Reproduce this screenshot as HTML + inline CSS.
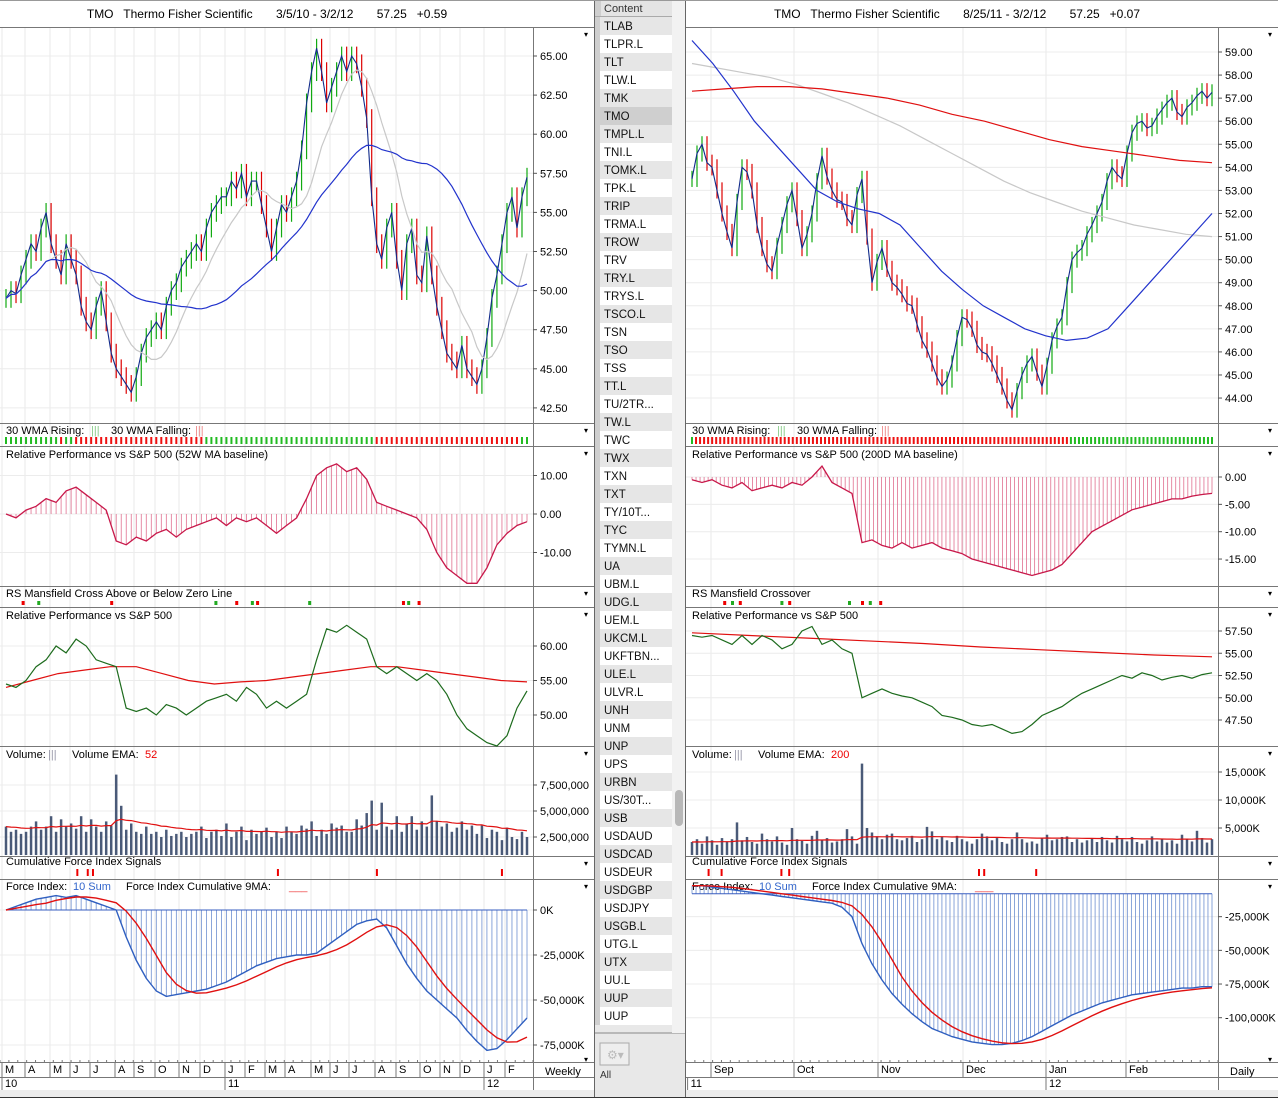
<!DOCTYPE html>
<html><head><meta charset="utf-8">
<style>
html,body{margin:0;padding:0;background:#fff;}
svg{display:block;font-family:"Liberation Sans",sans-serif;}
text{white-space:pre;}
</style></head>
<body>
<svg id="root" width="1278" height="1098" viewBox="0 0 1278 1098" xmlns="http://www.w3.org/2000/svg"></svg>
<script>
// ---------- DATA ----------
const leftClose=[49.5,50,49.8,51,52,53,52.5,54,55,53,52,51,53,52,51,49,48,47.5,49,50,48,46,45,44.5,44,43.5,44.5,46,47,47.5,48,47.5,49,50,50.5,51.5,52,52.5,53,52.5,54,55,55.5,56,56,57,56.5,57.5,56,57,57,55.5,54,52.5,54,55.5,55,56,57,59,62,64,65.5,64,62,63,64,65,64,65,64.5,63,61,56,53,52,54,55,52,50,53,54,51,50.5,53.5,51,49,47.5,46,45.5,45,46.5,45,44.5,44,45,47,49.5,51,53,55,56,54,56,57.25];
const leftVol=[3.5,3,3.2,2.8,3,3.5,4,3.2,3.5,4.5,3,4.2,3.5,3.8,3.3,4.5,3,4.2,3.5,3,4,3.6,8.5,5.5,3.2,3.8,3,2.8,3.5,2.8,3,2.5,3.2,2.6,2.8,3,2.5,2.8,3,3.5,2.4,3,3.2,2.6,3.8,2.5,3,3.5,2.2,3.2,2.8,3,3.4,2.5,3,2.4,3.5,3,2.8,3.6,3.3,4,2.6,3.2,2.8,3.8,3.4,3.6,3,3,4.2,3.6,4.8,6,3.2,5.8,3.5,3.2,4.5,3,3.8,4.5,3.2,4,3.5,6.5,4,3.5,3.8,3,3.4,4,3.2,3.6,2.8,3.6,2.4,3.2,3,2.2,3.4,2.5,2.3,3,2.5];
const leftRS52=[0,-1,1,2,4,3,6,7,5,3,1,-7,-8,-6,-7,-5,-4,-6,-4,-3,-2,-1,-3,-1,-2,-1,-3,-5,-3,-1,4,10,12,13,11,12,9,3,2,1,0,-1,-4,-10,-14,-16,-18,-18,-14,-8,-5,-3,-2];
const leftRP=[54.5,54,55,57,58,60,59,61,60,58,57.5,57,51,50.5,51,50,51.5,51,50,51,52,52.5,53,52,54,53,51,52,51,52,53,58,62.5,62,63,62,61,57,56,57,56,55,56,55,53,50,48,47,46,45.5,47,51,53.5];
const leftRPma=[54,55,56,56.5,57,57,56,55,54.5,54.8,55,55.5,56,56.5,57,57,56.5,56,55.5,55,54.8];
const leftFI=[0,2,4,6,7,8,7,8,6,4,2,0,-15,-28,-38,-45,-48,-47,-46,-45,-44,-42,-40,-37,-34,-31,-29,-27,-26,-25,-25,-24,-20,-16,-12,-8,-6,-5,-10,-20,-30,-38,-45,-50,-55,-60,-67,-73,-78,-77,-72,-66,-60];
const leftPriceTicks=[65,62.5,60,57.5,55,52.5,50,47.5,45,42.5];
const leftPriceLabels=["65.00","62.50","60.00","57.50","55.00","52.50","50.00","47.50","45.00","42.50"];
const leftMonths=["M","A","M","J","J","A","S","O","N","D","J","F","M","A","M","J","J","A","S","O","N","D","J","F"];
const leftYears=["10","11","12"];
const leftMansfield=[[0.03,'#e00'],[0.06,'#2a2'],[0.2,'#e00'],[0.4,'#2a2'],[0.44,'#e00'],[0.47,'#2a2'],[0.48,'#e00'],[0.58,'#2a2'],[0.76,'#e00'],[0.77,'#2a2'],[0.79,'#e00']];
const leftCFI=[0.135,0.155,0.165,0.52,0.71,0.95];

const rightClose=[53.5,54.6,55,54.2,54,53,52,51.2,50.5,52.5,54,53.8,53,51.5,50.5,49.8,49.5,50.6,51.5,52.4,53,51.8,50.5,51.1,52,53.4,54.5,53.6,53,52.6,52.5,51.8,51.5,52.8,53.5,51,49,49.9,50.5,49.6,49,48.8,48.5,48.1,48,47.2,46.5,46.1,45.5,44.9,44.5,44.8,45.5,46.6,47.5,47.4,47,46.3,46,45.9,45.5,45,44.5,43.9,43.5,44.3,45,45.5,45.8,45.1,44.5,45.4,46.5,47.1,47.5,48.9,50,50.3,50.5,51.1,51.5,52,52.5,53.4,54,53.7,53.5,54.6,55.5,55.9,56,55.7,55.8,56.2,56.5,56.8,57,56.4,56.2,56.6,56.8,57.1,57.3,57,57.25];
const rightMAblue=[59.5,58.5,57.3,56,55,54,53,52.5,52.2,52,51.5,50.5,49.5,48.7,48,47.5,47,46.7,46.5,46.6,47,48,49,50,51,52];
const rightMAgrey=[58.5,58.3,58.1,57.9,57.6,57.2,56.8,56.3,55.8,55.2,54.6,54,53.4,52.9,52.5,52.1,51.8,51.5,51.3,51.1,51];
const rightMAred=[57.3,57.4,57.5,57.5,57.4,57.2,57,56.7,56.3,56,55.6,55.2,54.9,54.7,54.5,54.3,54.2];
const rightVol=[2.5,3,2.2,3.5,2.8,2,3.2,2.6,3,6,2.8,3.4,2.5,2.2,4,3,2.6,3.5,2.4,2,5,3,2.7,2.2,3.6,4.5,2.8,3.2,2.4,2.6,3,4.8,3.5,2.2,16.5,5,4.2,3.5,3,3.8,4,3,2.8,3.2,3.6,2.5,3,5.2,4.4,3,3.4,2.8,2.5,3.6,3,2.6,2.2,3,4,3.5,2.8,3.2,2.5,2.2,3,4.2,3,2.4,2.6,2.2,3.2,3.8,2.8,3,3.4,3.5,2.5,3,2.4,2.8,3.2,2.5,3.4,2.8,2.4,3.6,3,2.6,3.4,2.5,2.2,2.8,3.5,2.6,3,2.4,2.8,2.2,3.8,3,2.6,4.5,3.2,2.4,3];
const rightRS=[-0.5,-1,-0.5,-1.5,-2,-1,-2.5,-2,-1.5,-2,-1,-1.5,0,2,-1,-2,-3,-12,-11.5,-12.5,-13,-12,-13,-12.5,-12,-13,-13.5,-14,-15,-15.5,-16,-16.5,-17,-17.5,-18,-17.5,-17,-16,-14,-12,-10,-9,-8,-7,-6,-5.5,-5,-4.5,-4,-4,-3.5,-3.2,-3];
const rightRP=[57,56.8,57,56.5,56,57,56,57,56.5,55.5,56,57.5,58,56,56.5,55.5,55,50,50.5,51,50.5,50.2,50,49.5,49,48,47.8,47.5,47,46.8,47,46.5,46,46.2,47,48,48.5,49,49.8,50.5,51,51.5,52,52.5,52.2,52.8,52.5,52,52.3,52.5,52.2,52.6,52.8];
const rightRPma=[57.3,57,56.7,56.4,56.1,55.7,55.4,55.1,54.8,54.6];
const rightFI=[-2,-2,-3,-4,-5,-6,-7,-8,-9,-10,-11,-12,-13,-14,-15,-18,-25,-45,-60,-72,-82,-90,-97,-103,-108,-111,-114,-116,-118,-119,-120,-120,-119,-117,-114,-110,-106,-102,-98,-95,-92,-89,-87,-85,-83,-82,-81,-80,-79,-78,-78,-77,-77];
const rightPriceTicks=[59,58,57,56,55,54,53,52,51,50,49,48,47,46,45,44];
const rightMonths=["Sep","Oct","Nov","Dec","Jan","Feb"];
const rightMansfield=[[0.06,'#e00'],[0.075,'#2a2'],[0.09,'#e00'],[0.17,'#2a2'],[0.185,'#e00'],[0.3,'#2a2'],[0.325,'#e00'],[0.34,'#2a2'],[0.36,'#e00']];
const rightCFI=[0.03,0.055,0.17,0.185,0.55,0.56,0.66];
const symbols=["TLAB","TLPR.L","TLT","TLW.L","TMK","TMO","TMPL.L","TNI.L","TOMK.L","TPK.L","TRIP","TRMA.L","TROW","TRV","TRY.L","TRYS.L","TSCO.L","TSN","TSO","TSS","TT.L","TU/2TR...","TW.L","TWC","TWX","TXN","TXT","TY/10T...","TYC","TYMN.L","UA","UBM.L","UDG.L","UEM.L","UKCM.L","UKFTBN...","ULE.L","ULVR.L","UNH","UNM","UNP","UPS","URBN","US/30T...","USB","USDAUD","USDCAD","USDEUR","USDGBP","USDJPY","USGB.L","UTG.L","UTX","UU.L","UUP","UUP"];

// ---------- HELPERS ----------
const NS="http://www.w3.org/2000/svg";
const svg=document.getElementById('root');
function mk(tag,a,p){const e=document.createElementNS(NS,tag);for(const k in a)e.setAttribute(k,a[k]);(p||svg).appendChild(e);return e;}
function txt(x,y,s,a,p){const e=mk('text',Object.assign({x:x,y:y,'font-size':11,fill:'#000'},a||{}),p);e.textContent=s;return e;}
function sma(arr,n){return arr.map((v,i)=>{let s=0,c=0;for(let j=Math.max(0,i-n+1);j<=i;j++){s+=arr[j];c++;}return s/c;});}
function ema(arr,n){const k=2/(n+1);let e=arr[0];return arr.map(v=>e=v*k+e*(1-k));}
function xs(n,x0,x1){return i=>x0+(x1-x0)*(n<=1?0:i/(n-1));}
function sampleAt(arr,f){const fx=f*(arr.length-1);const i0=Math.floor(fx),i1=Math.min(arr.length-1,i0+1);return arr[i0]+(arr[i1]-arr[i0])*(fx-i0);}
function poly(vals,x0,x1,yf,color,w,p){const X=xs(vals.length,x0,x1);return mk('polyline',{points:vals.map((v,i)=>X(i).toFixed(1)+','+yf(v).toFixed(1)).join(' '),fill:'none',stroke:color,'stroke-width':w||1},p);}

// ---------- MIDDLE LIST ----------
const mid=mk('g',{});


mk('rect',{x:594,y:0,width:92,height:1098,fill:'#e4e4e4'},mid);
mk('rect',{x:594,y:0,width:7,height:1098,fill:'#cfcfcf'},mid);
const hdr=txt(604,12,'Content',{'font-size':11,fill:'#333'},mid);


mk('line',{x1:594,y1:16.5,x2:686,y2:16.5,stroke:'#aaa'},mid);
symbols.forEach((s,i)=>{
  const top=17+18*i;
  const bg=s==='TMO'?'#cfcfcf':(i%2===0?'#e6e6e6':'#ffffff');
  const r=mk('rect',{x:600,y:top,width:72,height:18,fill:bg},mid);
  
  
  txt(604,top+13,s,{'font-size':11.5,fill:'#111'},mid);
});
mk('rect',{x:594,y:1025,width:92,height:73,fill:'#e8e8e8'},mid);
mk('line',{x1:594,y1:1033,x2:686,y2:1033,stroke:'#888'},mid);
const gear=mk('rect',{x:600,y:1043,width:29,height:22,fill:'#eee',stroke:'#aaa'},mid);


txt(607,1059,'⚙▾',{'font-size':12,fill:'#bbb'},mid);
txt(600,1078,'All',{'font-size':10,fill:'#333'},mid);
mk('rect',{x:672,y:0,width:14,height:1033,fill:'#f2f2f2'},mid);
const thumb=mk('rect',{x:675,y:790,width:8,height:36,rx:4,fill:'#b8b8b8'},mid);


mk('line',{x1:594.5,y1:0,x2:594.5,y2:1098,stroke:'#666'},mid);
mk('line',{x1:685.5,y1:0,x2:685.5,y2:1098,stroke:'#666'},mid);

// ---------- PANEL BUILDER ----------
function buildSide(S){
  const g=mk('g',{});
  
  
  const X0=S.x0,AX=S.ax,W=S.w;
  const t=txt((X0+W)/2+S.titleShift,18,S.title,{'font-size':12,'text-anchor':'middle'},g);
  
  
  S.vgrid.forEach(f=>{mk('line',{x1:X0+f*(AX-X0),y1:27,x2:X0+f*(AX-X0),y2:1062,stroke:'#e8e8e8'},g);});
  [27,423,446,586,607,746,856,879,1062,1077,1090].forEach(y=>mk('line',{x1:X0,y1:y+.5,x2:W,y2:y+.5,stroke:'#777'},g));
  mk('line',{x1:AX+.5,y1:27,x2:AX+.5,y2:1090,stroke:'#777'},g);
  mk('rect',{x:X0,y:1090,width:W-X0,height:8,fill:'#ececec'},g);
  const pa=X0+6,pb=AX-6;

  // ---- price
  const py=S.py;
  S.priceTicks.forEach((v,i)=>{const y=py(v);mk('line',{x1:X0,y1:y,x2:AX,y2:y,stroke:'#ececec'},g);mk('line',{x1:AX,y1:y,x2:AX+4,y2:y,stroke:'#555'},g);
    const l=txt(AX+7,y+4,S.priceLabels[i],{},g);});
  const C=S.close,n=C.length,X=xs(n,pa,pb);
  const bars=mk('g',{},g);
  C.forEach((c,i)=>{const p=i?C[i-1]:c;const hi=Math.max(p,c)+S.wick,lo=Math.min(p,c)-S.wick;const col=c>=p?'#1a1':'#d00';
    mk('line',{x1:X(i),y1:py(hi),x2:X(i),y2:py(lo),stroke:col,'stroke-width':1.2},bars);});
  const cl=poly(C,pa,pb,py,'#102a8a',1.1,g);
  const g1=poly(S.maGrey,pa,pb,py,'#c8c8c8',1.2,g);
  const b1=poly(S.maBlue,pa,pb,py,'#2233cc',1.2,g);
  if(S.maRed){const r1=poly(S.maRed,pa,pb,py,'#e01010',1.2,g);}

  // ---- WMA strip
  txt(X0+6,434,'30 WMA Rising:',{},g);txt(X0+91,434,'|||',{fill:'#8c8'},g);
  txt(X0+111,434,'30 WMA Falling:',{},g);txt(X0+195,434,'|||',{fill:'#e88'},g);
  const MB=S.wmaSeries,SN=S.stripN;
  const strip=mk('g',{},g);
  for(let k=0;k<SN;k++){const f=k/(SN-1);const v=sampleAt(MB,f),pv=sampleAt(MB,Math.max(0,f-1/(SN-1)));const up=k?v>=pv:true;
    mk('rect',{x:pa+(pb-pa)*f-1,y:437,width:2,height:7,fill:up?'#2b2':'#e11'},strip);}

  // ---- RS panel
  txt(X0+6,458,S.rsTitle,{},g);
  const ry=S.ry;
  S.rsTicks.forEach((v,i)=>{const y=ry(v);mk('line',{x1:X0,y1:y,x2:AX,y2:y,stroke:'#ececec'},g);mk('line',{x1:AX,y1:y,x2:AX+4,y2:y,stroke:'#555'},g);txt(AX+7,y+4,S.rsLabels[i],{},g);});
  const RS=S.rs;
  const hist=mk('g',{},g);
  const denseN=S.rsDense;
  for(let k=0;k<denseN;k++){const f=k/(denseN-1);const v=sampleAt(RS,f);const x=pa+(pb-pa)*f;
    mk('line',{x1:x,y1:ry(0),x2:x,y2:ry(v),stroke:'#e07090','stroke-width':.8},hist);}
  const rl=poly(RS,pa,pb,ry,'#c8184a',1.3,g);

  // ---- Mansfield
  txt(X0+6,597,S.mansTitle,{},g);
  const mm=mk('g',{},g);
  S.mans.forEach(m=>mk('rect',{x:pa+(pb-pa)*m[0],y:601,width:3,height:4,fill:m[1]},mm));

  // ---- Relative performance
  txt(X0+6,619,'Relative Performance vs S&P 500',{},g);
  const rpy=S.rpy;
  S.rpTicks.forEach((v,i)=>{const y=rpy(v);mk('line',{x1:X0,y1:y,x2:AX,y2:y,stroke:'#ececec'},g);mk('line',{x1:AX,y1:y,x2:AX+4,y2:y,stroke:'#555'},g);txt(AX+7,y+4,S.rpLabels[i],{},g);});
  const rpm=poly(S.rpMa,pa,pb,rpy,'#e01010',1.2,g);
  const rpl=poly(S.rp,pa,pb,rpy,'#1d6b1d',1.2,g);

  // ---- Volume
  txt(X0+6,758,'Volume:',{},g);txt(X0+48,758,'|||',{fill:'#99a'},g);
  txt(X0+S.vemaX,758,'Volume EMA:',{},g);txt(X0+S.vemaX+73,758,S.vemaN,{fill:'#e00'},g);
  const vy=S.vy;
  S.volTicks.forEach((v,i)=>{const y=vy(v);mk('line',{x1:X0,y1:y,x2:AX,y2:y,stroke:'#ececec'},g);mk('line',{x1:AX,y1:y,x2:AX+4,y2:y,stroke:'#555'},g);txt(AX+7,y+4,S.volLabels[i],{},g);});
  const V=S.vol,XV=xs(V.length,pa,pb);const bw=Math.max(1.5,(pb-pa)/V.length*0.5);
  const vb=mk('g',{},g);
  V.forEach((v,i)=>{const y=Math.min(vy(v),855);mk('rect',{x:XV(i)-bw/2,y:y,width:bw,height:855-y,fill:'#4a5a78'},vb);});
  const ve=poly(ema(V,S.vemaLen),pa,pb,vy,'#e01010',1.2,g);

  // ---- CFI signals
  txt(X0+6,865,'Cumulative Force Index Signals',{},g);
  const cf=mk('g',{},g);
  S.cfi.forEach(f=>mk('rect',{x:pa+(pb-pa)*f,y:869,width:2,height:7,fill:'#e00'},cf));

  // ---- Force index
  txt(X0+6,890,'Force Index:',{},g);txt(X0+73,890,'10 Sum',{fill:'#36c'},g);
  txt(X0+126,890,'Force Index Cumulative 9MA:',{},g);txt(X0+289,890,'___',{fill:'#e44'},g);
  const fy=S.fy;
  S.fiTicks.forEach((v,i)=>{const y=fy(v);mk('line',{x1:X0,y1:y,x2:AX,y2:y,stroke:'#ececec'},g);mk('line',{x1:AX,y1:y,x2:AX+4,y2:y,stroke:'#555'},g);txt(AX+7,y+4,S.fiLabels[i],{},g);});
  const F=S.fi;const fh=mk('g',{},g);
  const dn=S.fiDense;
  for(let k=0;k<dn;k++){const f=k/(dn-1);const v=sampleAt(F,f);const x=pa+(pb-pa)*f;
    mk('line',{x1:x,y1:fy(S.fiBase),x2:x,y2:fy(v),stroke:'#6d8fd0','stroke-width':.8},fh);}
  mk('line',{x1:pa,y1:fy(S.fiBase),x2:pb,y2:fy(S.fiBase),stroke:'#3a5fc0','stroke-width':1},g);
  const fl=poly(F,pa,pb,fy,'#2f5fc0',1.4,g);
  const fr=poly(sma(F,5),pa,pb,fy,'#e01010',1.4,g);

  // ---- time axis
  for(let k=0;k<=60;k++){const x=X0+(AX-X0)*k/60;mk('line',{x1:x,y1:1060,x2:x,y2:1062,stroke:'#777'},g);}
  S.months.forEach((m,i)=>{const x=X0+S.monthPos[i]*(AX-X0);mk('line',{x1:x,y1:1062,x2:x,y2:1077,stroke:'#777'},g);
    const l=txt(x+3,1073,m,{},g);});
  S.years.forEach((y,i)=>{const x=X0+S.yearPos[i]*(AX-X0);mk('line',{x1:x,y1:1077,x2:x,y2:1090,stroke:'#777'},g);
    const l=txt(x+3,1087,y,{},g);});
  const per=txt(AX+12,1075,S.period,{'font-size':11},g);
  txt(W-10,1062,'▾',{'font-size':8},g);
  [27,423,446,586,607,746,856,879].forEach(y=>txt(W-10,y+10,'▾',{'font-size':8},g));
}

// ---------- LEFT ----------
const leftMonthPos=[2,25,50,70,90,115,134,155,179,200,225,245,265,285,311,330,349,375,396,420,440,460,484,505].map(v=>v/533);
const lMA30=sma(leftClose,30),lMA10=sma(leftClose,10);
buildSide({name:'weekly-chart',x0:0,x1:533,ax:533,w:594,titleShift:-30,
  title:'TMO   Thermo Fisher Scientific       3/5/10 - 3/2/12       57.25   +0.59',
  vgrid:leftMonthPos,
  py:v=>56+(65-v)*15.64,priceTicks:leftPriceTicks,priceLabels:leftPriceLabels,
  close:leftClose,wick:0.6,maGrey:lMA10,maBlue:lMA30,maRed:null,wmaSeries:lMA30,stripN:105,
  rsTitle:'Relative Performance vs S&P 500 (52W MA baseline)',ry:v=>514-v*3.85,rsTicks:[10,0,-10],rsLabels:['10.00','0.00','-10.00'],rs:leftRS52,rsDense:105,
  mansTitle:'RS Mansfield Cross Above or Below Zero Line',mans:leftMansfield,
  rpy:v=>715-(v-50)*6.9,rpTicks:[60,55,50],rpLabels:['60.00','55.00','50.00'],rp:leftRP,rpMa:leftRPma,
  vemaX:72,vemaN:'52',vemaLen:20,vy:v=>863-v*10.4,volTicks:[7.5,5,2.5],volLabels:['7,500,000','5,000,000','2,500,000'],vol:leftVol,
  cfi:leftCFI,
  fy:v=>910-v*1.8,fiTicks:[0,-25,-50,-75],fiLabels:['0K','-25,000K','-50,000K','-75,000K'],fi:leftFI,fiDense:105,fiBase:0,
  months:leftMonths,monthPos:leftMonthPos,years:leftYears,yearPos:[2/533,225/533,484/533],period:'Weekly'});

// ---------- RIGHT ----------
const rx=v=>(v-686)/(1218-686);
buildSide({name:'daily-chart',x0:686,x1:1218,ax:1218,w:1278,titleShift:-25,
  title:'TMO   Thermo Fisher Scientific       8/25/11 - 3/2/12       57.25   +0.07',
  vgrid:[711,794,878,963,1046,1126].map(rx),
  py:v=>52+(59-v)*23.07,priceTicks:rightPriceTicks,priceLabels:rightPriceTicks.map(v=>v.toFixed(2)),
  close:rightClose,wick:0.35,maGrey:rightMAgrey,maBlue:rightMAblue,maRed:rightMAred,wmaSeries:rightMAblue,stripN:130,
  rsTitle:'Relative Performance vs S&P 500 (200D MA baseline)',ry:v=>477-v*5.47,rsTicks:[0,-5,-10,-15],rsLabels:['0.00','-5.00','-10.00','-15.00'],rs:rightRS,rsDense:130,
  mansTitle:'RS Mansfield Crossover',mans:rightMansfield,
  rpy:v=>720-(v-47.5)*8.9,rpTicks:[57.5,55,52.5,50,47.5],rpLabels:['57.50','55.00','52.50','50.00','47.50'],rp:rightRP,rpMa:rightRPma,
  vemaX:72,vemaN:'200',vemaLen:60,vy:v=>856-v*5.6,volTicks:[15,10,5],volLabels:['15,000K','10,000K','5,000K'],vol:rightVol,
  cfi:rightCFI,
  fy:v=>883-v*1.347,fiTicks:[-25,-50,-75,-100],fiLabels:['-25,000K','-50,000K','-75,000K','-100,000K'],fi:rightFI,fiDense:130,fiBase:-8,
  months:rightMonths,monthPos:[711,794,878,963,1046,1126].map(rx),years:['11','12'],yearPos:[0.003,rx(1046)],period:'Daily'});

mk('line',{x1:0,y1:0.5,x2:1278,y2:0.5,stroke:'#999'});
mk('line',{x1:0,y1:1097.5,x2:1278,y2:1097.5,stroke:'#333'});
</script>
</body></html>
